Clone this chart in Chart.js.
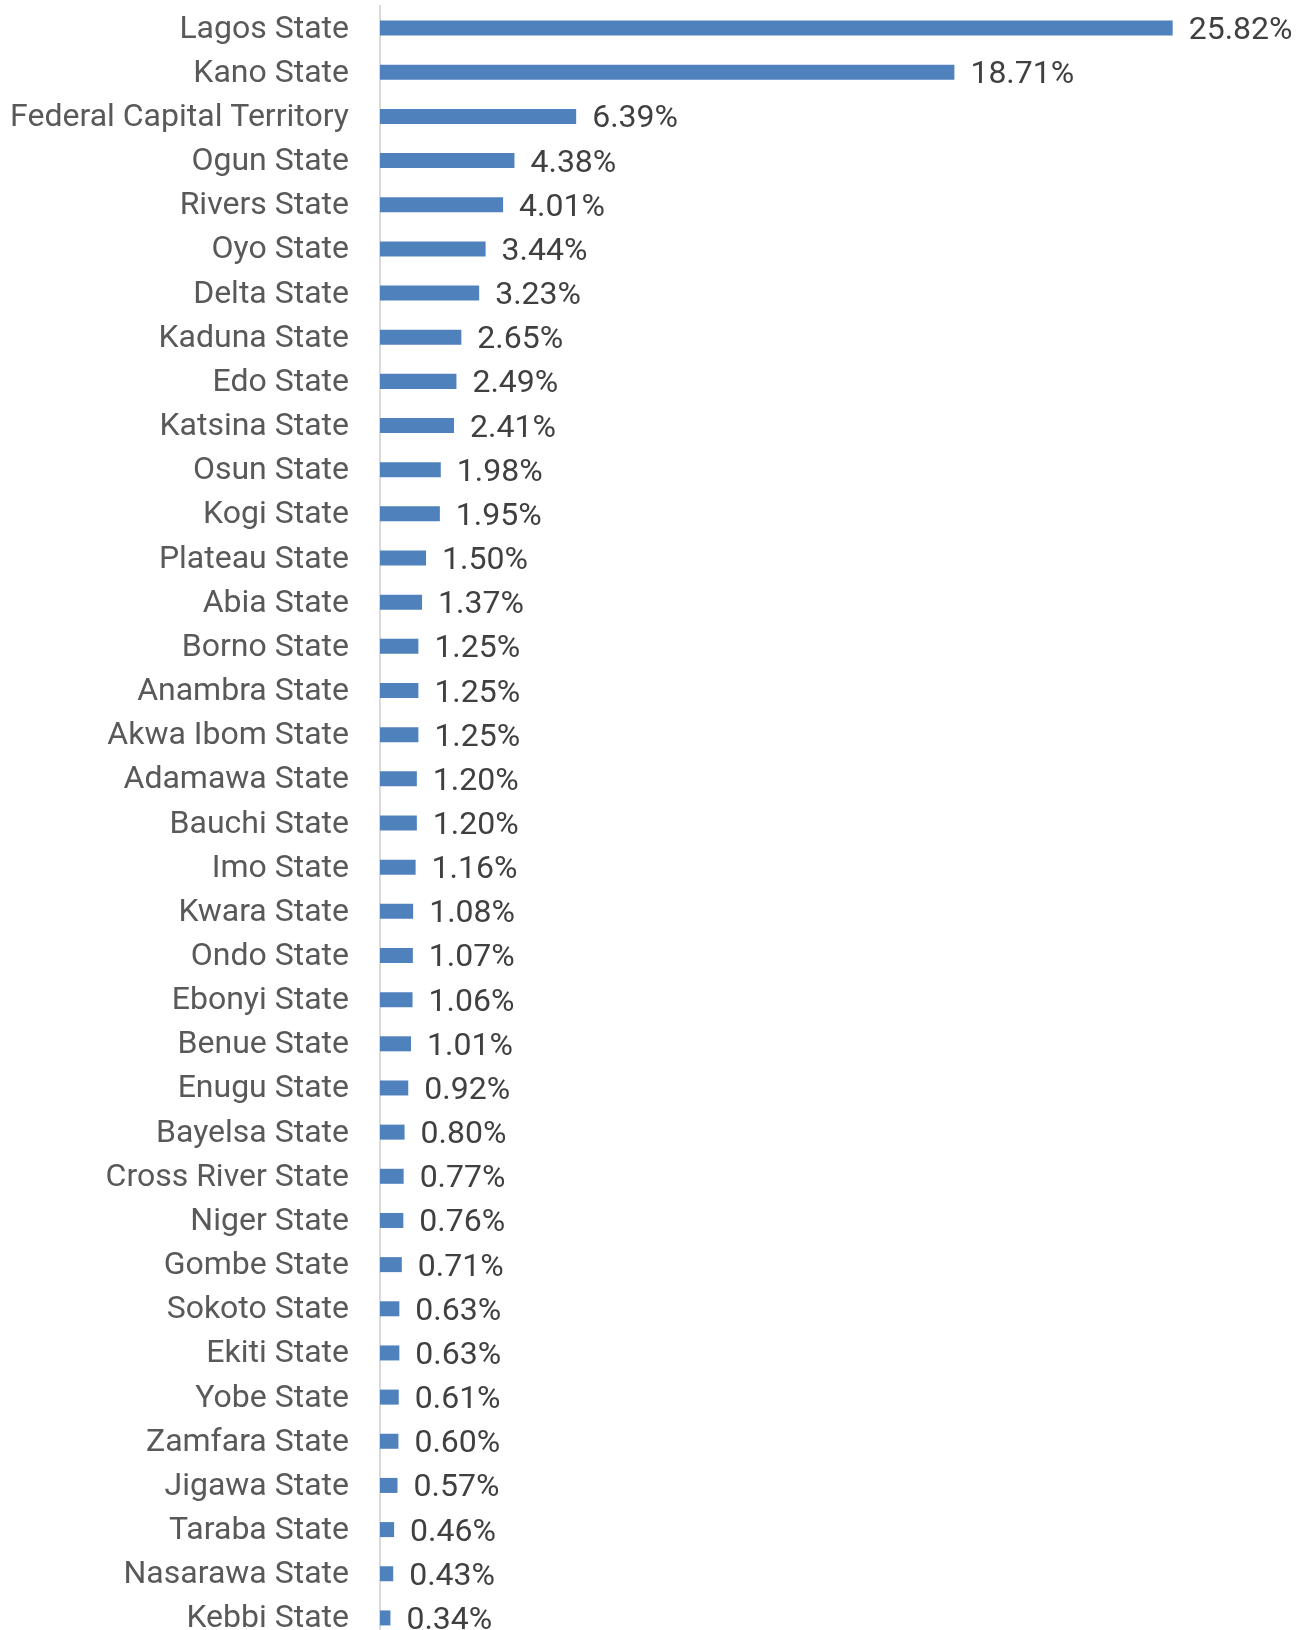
<!DOCTYPE html>
<html>
<head>
<meta charset="utf-8">
<script src="https://cdn.jsdelivr.net/npm/chart.js@4.4.1/dist/chart.umd.min.js"></script>
<style>
  html, body { margin: 0; padding: 0; background: #ffffff; overflow: hidden; }
  #wrap { width: 1304px; height: 1630px; overflow: hidden; position: relative; }
  #chart { position: absolute; left: 0; top: 0; }
</style>
</head>
<body>
<div id="wrap"><canvas id="chart" width="1304" height="1646"></canvas></div>
<script>
// Share of total by state (%)
const states = [
  "Lagos State", "Kano State", "Federal Capital Territory", "Ogun State", "Rivers State",
  "Oyo State", "Delta State", "Kaduna State", "Edo State", "Katsina State",
  "Osun State", "Kogi State", "Plateau State", "Abia State", "Borno State",
  "Anambra State", "Akwa Ibom State", "Adamawa State", "Bauchi State", "Imo State",
  "Kwara State", "Ondo State", "Ebonyi State", "Benue State", "Enugu State",
  "Bayelsa State", "Cross River State", "Niger State", "Gombe State", "Sokoto State",
  "Ekiti State", "Yobe State", "Zamfara State", "Jigawa State", "Taraba State",
  "Nasarawa State", "Kebbi State"
];
const shares = [
  25.82, 18.71, 6.39, 4.38, 4.01,
  3.44, 3.23, 2.65, 2.49, 2.41,
  1.98, 1.95, 1.50, 1.37, 1.25,
  1.25, 1.25, 1.20, 1.20, 1.16,
  1.08, 1.07, 1.06, 1.01, 0.92,
  0.80, 0.77, 0.76, 0.71, 0.63,
  0.63, 0.61, 0.60, 0.57, 0.46,
  0.43, 0.34
];

// Draws the percentage next to the end of each bar
const valueLabels = {
  id: 'valueLabels',
  afterDatasetsDraw(chart) {
    const ctx = chart.ctx;
    const meta = chart.getDatasetMeta(0);
    ctx.save();
    ctx.font = '32px Roboto';
    ctx.fillStyle = '#404040';
    ctx.textAlign = 'left';
    ctx.textBaseline = 'middle';
    meta.data.forEach((bar, i) => {
      ctx.fillText(shares[i].toFixed(2) + '%', bar.x + 16, bar.y + 3);
    });
    ctx.restore();
  }
};

new Chart(document.getElementById('chart'), {
  type: 'bar',
  data: {
    labels: states,
    datasets: [{
      data: shares,
      backgroundColor: '#4f81bd',
      borderWidth: 0,
      barPercentage: 0.34,
      categoryPercentage: 1.0
    }]
  },
  options: {
    indexAxis: 'y',
    responsive: false,
    animation: false,
    layout: { padding: { top: 6, right: 3, bottom: 6, left: 0 } },
    plugins: {
      legend: { display: false },
      tooltip: { enabled: false }
    },
    scales: {
      x: {
        display: false,
        min: 0,
        max: 30
      },
      y: {
        afterFit(scale) { scale.width = 380; },
        grid: {
          display: true,
          drawOnChartArea: false,
          drawTicks: true,
          tickLength: 31,
          tickColor: 'rgba(0,0,0,0)'
        },
        border: { display: true, color: '#d9d9d9', width: 2 },
        ticks: {
          padding: 0,
          labelOffset: 1.5,
          color: '#595959',
          font: { family: 'Roboto', size: 32, lineHeight: 0.35 }
        }
      }
    }
  },
  plugins: [valueLabels]
});
</script>
</body>
</html>
